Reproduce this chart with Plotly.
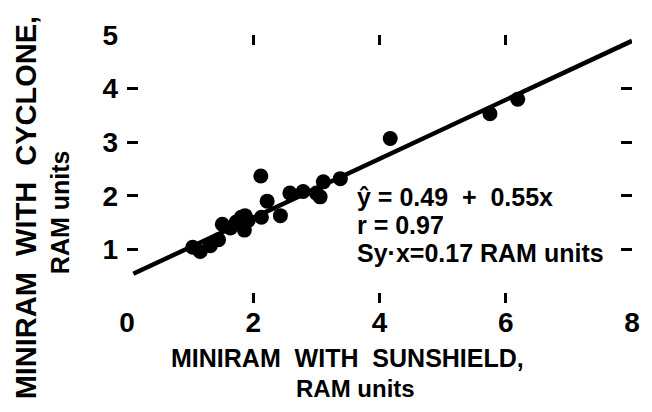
import plotly.graph_objects as go

# Data
sunshield = [1.04, 1.16, 1.32, 1.45, 1.51, 1.64, 1.73, 1.81, 1.86, 1.92, 1.87,
             2.13, 2.12, 2.22, 2.43, 2.58, 2.79, 3.00, 3.11, 3.06, 3.38,
             4.17, 5.75, 6.19]
cyclone = [1.04, 0.96, 1.07, 1.18, 1.47, 1.40, 1.51, 1.60, 1.36, 1.54, 1.63,
           1.60, 2.37, 1.90, 1.63, 2.05, 2.08, 2.05, 2.26, 1.98, 2.32,
           3.07, 3.53, 3.80]

# Regression line y = 0.49 + 0.55x
fit_x = [0.1, 8.0]
fit_intercept = 0.49
fit_slope = 0.55
fit_y = [fit_intercept + fit_slope * v for v in fit_x]

x_ticks = [0, 2, 4, 6, 8]
x_tick_text = ["0", "2", "4", "6", "8"]
y_ticks = [1, 2, 3, 4, 5]
y_tick_text = ["1", "2", "3", "4", "5"]
inner_x_ticks = [2, 4, 6]
inner_y_ticks = [1, 2, 3, 4]

stats_lines = ["ŷ = 0.49\u00a0 + \u00a00.55x", "r = 0.97", "Sy·x=0.17 RAM units"]

FONT = "Liberation Sans, Arial, sans-serif"

fig = go.Figure()
fig.add_trace(go.Scatter(x=sunshield, y=cyclone, mode="markers",
                         marker=dict(color="black", size=15, line=dict(width=0)),
                         showlegend=False))
fig.add_trace(go.Scatter(x=fit_x, y=fit_y, mode="lines", xaxis="x2", yaxis="y2",
                         line=dict(color="black", width=4.5),
                         hoverinfo="skip", showlegend=False))

common = dict(showgrid=False, zeroline=False, showline=False)
fig.update_layout(
    width=644, height=404,
    margin=dict(l=118.5, r=19.5, t=19, b=108.7),
    paper_bgcolor="white", plot_bgcolor="white",
    font=dict(family=FONT, color="black"),
    xaxis=dict(range=[0, 8], tickvals=x_ticks, ticktext=x_tick_text,
               ticks="", ticklabelstandoff=0,
               tickfont=dict(size=28, family=FONT, weight="bold"), **common),
    yaxis=dict(range=[0, 5], tickvals=y_ticks, ticktext=y_tick_text,
               ticks="", ticklabelstandoff=8,
               tickfont=dict(size=28, family=FONT, weight="bold"), **common),
    xaxis2=dict(range=[0, 8], overlaying="x", anchor="y2", side="bottom",
                tickvals=inner_x_ticks, ticks="inside", ticklen=10, tickwidth=3,
                tickcolor="black", showticklabels=False, mirror="ticks", **common),
    yaxis2=dict(range=[0, 5], overlaying="y", anchor="x2", side="left",
                tickvals=inner_y_ticks, ticks="inside", ticklen=11, tickwidth=3,
                tickcolor="black", showticklabels=False, mirror="ticks", **common),
)

ann_font = dict(family=FONT, size=25, color="black", weight="bold")
for text, py in zip(stats_lines, [0.395, 0.290, 0.185]):
    fig.add_annotation(text=text, xref="paper", yref="paper", x=0.452, y=py,
                       xanchor="left", yanchor="middle", showarrow=False, font=ann_font)

fig.add_annotation(text="MINIRAM\u00a0 WITH\u00a0 SUNSHIELD,", xref="paper", yref="paper",
                   x=0.4358, y=-0.205, xanchor="center", yanchor="middle",
                   showarrow=False, font=dict(family=FONT, size=25, color="black", weight="bold"))
fig.add_annotation(text="RAM units", xref="paper", yref="paper",
                   x=0.4516, y=-0.318, xanchor="center", yanchor="middle",
                   showarrow=False, font=dict(family=FONT, size=24, color="black", weight="bold"))
fig.add_annotation(text="MINIRAM\u00a0 WITH\u00a0 CYCLONE,", xref="paper", yref="paper",
                   x=-0.2006, y=0.3558, xanchor="center", yanchor="middle", textangle=-90,
                   showarrow=False, font=dict(family=FONT, size=29, color="black", weight="bold"))
fig.add_annotation(text="RAM units", xref="paper", yref="paper",
                   x=-0.1314, y=0.3377, xanchor="center", yanchor="middle", textangle=-90,
                   showarrow=False, font=dict(family=FONT, size=25, color="black", weight="bold"))

fig.write_html("out.html")
